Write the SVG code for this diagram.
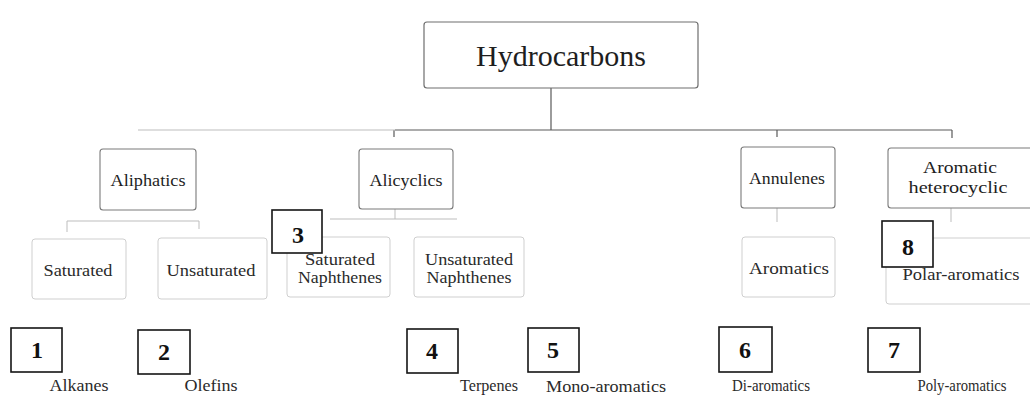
<svg xmlns="http://www.w3.org/2000/svg" width="1030" height="395" viewBox="0 0 1030 395">
<style>
text{font-family:"Liberation Serif","Times New Roman",serif;fill:#1e1e1e;text-anchor:middle}
.l0{font-size:30px}
.l1{font-size:17px}
.l2{font-size:17px;fill:#2a2a2a}
.lb{font-size:16px;fill:#2a2a2a}
.num{font-size:24px;font-weight:bold;fill:#111}
.b0{fill:#fff;stroke:#6e6e6e;stroke-width:1.2}
.b1{fill:#fff;stroke:#7a7a7a;stroke-width:1.1}
.b2{fill:#fff;stroke:#cfcfcf;stroke-width:1}
.bn{fill:#fff;stroke:#151515;stroke-width:1.6}
.c0{fill:none;stroke:#5a5a5a;stroke-width:1.2}
.c1{fill:none;stroke:#bdbdbd;stroke-width:1}
</style>
<g id="connectors">
<path class="c0" d="M551 88V130M395 130H952M394 130V137M777 130V137M952 130V138"/>
<path class="c1" d="M138 130H395"/>
<path class="c1" d="M67 232V221H199V229"/>
<path class="c1" d="M395 208V219M330 219H457"/>
<path class="c1" d="M777 208V222"/>
<path class="c1" d="M951 208V222"/>
</g>
<g id="n-hydrocarbons"><rect class="b0" x="424" y="22" width="274" height="66" rx="3"/><text class="l0" x="561" y="66">Hydrocarbons</text></g>
<g id="n-aliphatics"><rect class="b1" x="100" y="149" width="96" height="61" rx="3"/><text class="l1" x="148" y="186" textLength="75" lengthAdjust="spacingAndGlyphs">Aliphatics</text></g>
<g id="n-alicyclics"><rect class="b1" x="359" y="149" width="94" height="60" rx="3"/><text class="l1" x="406" y="186" textLength="73" lengthAdjust="spacingAndGlyphs">Alicyclics</text></g>
<g id="n-annulenes"><rect class="b1" x="741" y="147" width="94" height="61" rx="3"/><text class="l1" x="787" y="184" textLength="76" lengthAdjust="spacingAndGlyphs">Annulenes</text></g>
<g id="n-heterocyclic"><rect class="b1" x="888" y="148" width="150" height="60" rx="3"/><text class="l1" x="960" y="173" textLength="74" lengthAdjust="spacingAndGlyphs">Aromatic</text><text class="l1" x="958" y="193" textLength="99" lengthAdjust="spacingAndGlyphs">heterocyclic</text></g>
<g id="n-saturated"><rect class="b2" x="32" y="239" width="94" height="60" rx="3"/><text class="l2" x="78" y="276" textLength="69" lengthAdjust="spacingAndGlyphs">Saturated</text></g>
<g id="n-unsaturated"><rect class="b2" x="158" y="238" width="109" height="61" rx="3"/><text class="l2" x="211" y="276" textLength="89" lengthAdjust="spacingAndGlyphs">Unsaturated</text></g>
<g id="n-sat-naphthenes"><rect class="b2" x="287" y="237" width="103" height="60" rx="3"/><text class="l2" x="340" y="265" textLength="70" lengthAdjust="spacingAndGlyphs">Saturated</text><text class="l2" x="340" y="283" textLength="84" lengthAdjust="spacingAndGlyphs">Naphthenes</text></g>
<g id="n-unsat-naphthenes"><rect class="b2" x="414" y="237" width="110" height="60" rx="3"/><text class="l2" x="469" y="265" textLength="88" lengthAdjust="spacingAndGlyphs">Unsaturated</text><text class="l2" x="469" y="283" textLength="85" lengthAdjust="spacingAndGlyphs">Naphthenes</text></g>
<g id="n-aromatics"><rect class="b2" x="742" y="237" width="93" height="60" rx="3"/><text class="l2" x="789" y="274" textLength="80" lengthAdjust="spacingAndGlyphs">Aromatics</text></g>
<g id="n-polar"><rect class="b2" x="886" y="238" width="150" height="66" rx="3"/><text class="l2" x="961" y="280" textLength="117" lengthAdjust="spacingAndGlyphs">Polar-aromatics</text></g>
<g id="n-3"><rect class="bn" x="272" y="210" width="50" height="43"/><text class="num" x="298" y="243">3</text></g>
<g id="n-8"><rect class="bn" x="882" y="221" width="51" height="46"/><text class="num" x="908" y="255">8</text></g>
<g id="n-1"><rect class="bn" x="11" y="328" width="51" height="44"/><text class="num" x="37" y="358">1</text><text class="lb" x="79" y="391" textLength="59" lengthAdjust="spacingAndGlyphs">Alkanes</text></g>
<g id="n-2"><rect class="bn" x="138" y="330" width="52" height="44"/><text class="num" x="164" y="360">2</text><text class="lb" x="211" y="391" textLength="53" lengthAdjust="spacingAndGlyphs">Olefins</text></g>
<g id="n-4"><rect class="bn" x="407" y="329" width="51" height="44"/><text class="num" x="432" y="359">4</text><text class="lb" x="489" y="391" textLength="58" lengthAdjust="spacingAndGlyphs">Terpenes</text></g>
<g id="n-5"><rect class="bn" x="528" y="328" width="51" height="44"/><text class="num" x="553" y="358">5</text><text class="lb" x="606" y="392" textLength="120" lengthAdjust="spacingAndGlyphs">Mono-aromatics</text></g>
<g id="n-6"><rect class="bn" x="719" y="327" width="53" height="45"/><text class="num" x="745" y="358">6</text><text class="lb" x="771" y="391" textLength="78" lengthAdjust="spacingAndGlyphs">Di-aromatics</text></g>
<g id="n-7"><rect class="bn" x="868" y="328" width="52" height="44"/><text class="num" x="894" y="358">7</text><text class="lb" x="962" y="391" textLength="89" lengthAdjust="spacingAndGlyphs">Poly-aromatics</text></g>
</svg>
